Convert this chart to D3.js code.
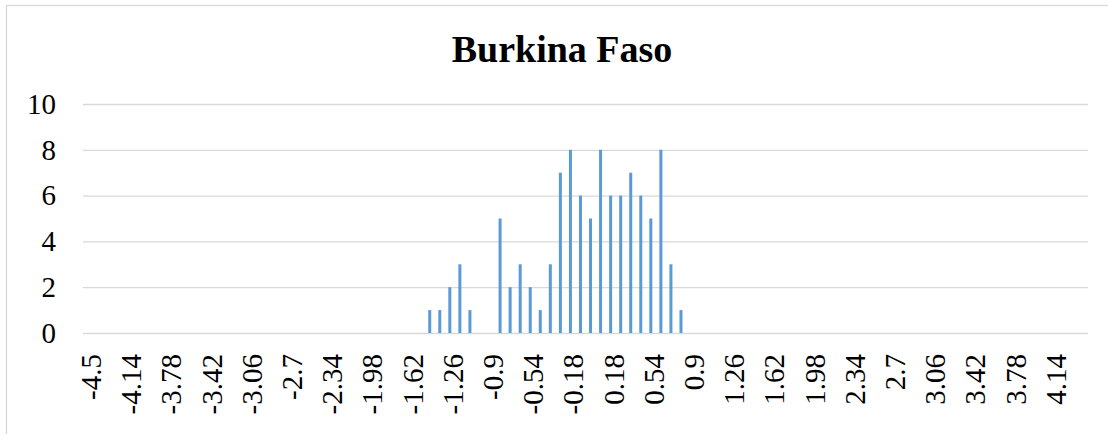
<!DOCTYPE html>
<html>
<head>
<meta charset="utf-8">
<script src="https://cdn.jsdelivr.net/npm/d3@7"></script>
<style>
  body { margin: 0; background: #fff; }
  text { font-family: "Times New Roman", "Liberation Serif", serif; fill: #000; }
</style>
</head>
<body>
<div id="plot"></div>
<script>
// bins: start and width of each class
var binStart = -4.5,
    binWidth = 0.09,
    binCount = 100;

// frequency for each of the 100 bins
var counts = [
  0,0,0,0,0,0,0,0,0,0, 0,0,0,0,0,0,0,0,0,0,
  0,0,0,0,0,0,0,0,0,0, 0,0,0,0,1,1,2,3,1,0,
  0,5,2,3,2,1,3,7,8,6, 5,8,6,6,7,6,5,8,3,1,
  0,0,0,0,0,0,0,0,0,0, 0,0,0,0,0,0,0,0,0,0,
  0,0,0,0,0,0,0,0,0,0, 0,0,0,0,0,0,0,0,0,0
];

// labels shown on the category axis (every 4th bin)
var tickLabels = ["-4.5","-4.14","-3.78","-3.42","-3.06","-2.7","-2.34","-1.98","-1.62","-1.26",
  "-0.9","-0.54","-0.18","0.18","0.54","0.9","1.26","1.62","1.98","2.34",
  "2.7","3.06","3.42","3.78","4.14"];
var yTicks = [0, 2, 4, 6, 8, 10];

var chartTitle = "Burkina Faso";

var W = 1108, H = 434;
var margin = {top: 104, right: 20, bottom: 101, left: 83},
    width = 1088 - margin.left,
    height = 333 - margin.top;

var svg = d3.select("#plot")
  .append("svg")
    .attr("width", W)
    .attr("height", H);

// outer chart border (right and bottom run off the picture)
svg.append("rect")
  .attr("x", 6.5).attr("y", 5.5)
  .attr("width", W + 20).attr("height", H + 20)
  .attr("fill", "none")
  .attr("stroke", "#d9d9d9")
  .attr("stroke-width", 1.3);

var g = svg.append("g")
  .attr("transform", "translate(" + margin.left + "," + margin.top + ")");

var idx = d3.range(binCount);

var x = d3.scaleBand()
  .domain(idx)
  .range([0, width]);

var y = d3.scaleLinear()
  .domain([0, 10])
  .range([height, 0]);

// gridlines + y labels
var yAxis = g.append("g")
  .call(d3.axisLeft(y).tickValues(yTicks).tickSize(-width).tickPadding(27).tickFormat(d3.format("d")));
yAxis.select(".domain").remove();
yAxis.selectAll(".tick line").attr("stroke", "#d9d9d9").attr("stroke-width", 1.3);
yAxis.selectAll(".tick text")
  .style("font-family", "'Times New Roman', 'Liberation Serif', serif")
  .style("font-size", "29px")
  .attr("fill", "#000");

// bars
g.append("g")
  .selectAll("rect")
  .data(idx.filter(function(i) { return counts[i] > 0; }))
  .enter()
  .append("rect")
    .attr("x", function(i) { return x(i) + x.bandwidth() / 2 - 1.5; })
    .attr("y", function(i) { return y(counts[i]); })
    .attr("width", 3)
    .attr("height", function(i) { return height - y(counts[i]); })
    .attr("fill", "#5b9bd5");

// category axis
var xAxis = g.append("g")
  .attr("transform", "translate(0," + height + ")")
  .call(d3.axisBottom(x)
    .tickValues(idx.filter(function(i) { return i % 4 === 0; }))
    .tickSize(0)
    .tickFormat(function(i) { return tickLabels[i / 4]; }));
xAxis.select(".domain").remove();
xAxis.selectAll(".tick text")
  .style("font-family", "'Times New Roman', 'Liberation Serif', serif")
  .style("font-size", "29px")
  .attr("fill", "#000")
  .attr("transform", "rotate(-90)")
  .attr("text-anchor", "end")
  .attr("x", -21)
  .attr("y", 13)
  .attr("dy", 0);

// title
svg.append("text")
  .attr("x", 562)
  .attr("y", 62)
  .attr("text-anchor", "middle")
  .style("font-weight", "bold")
  .style("font-size", "38px")
  .text(chartTitle);
</script>
</body>
</html>
